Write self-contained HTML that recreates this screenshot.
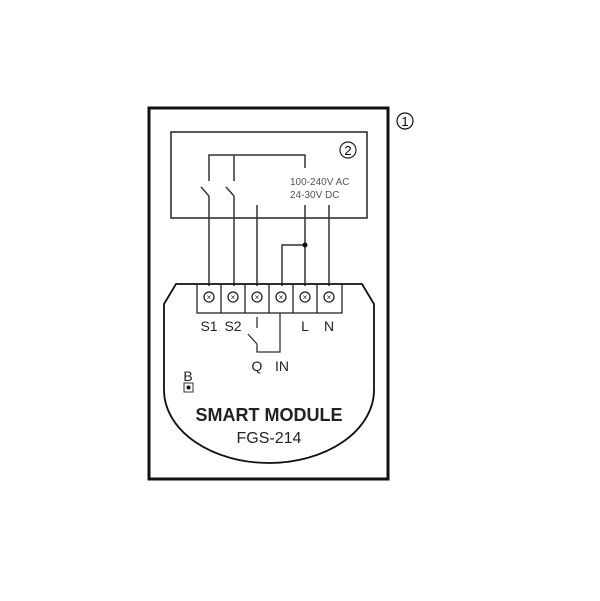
<!DOCTYPE html>
<html><head><style>body{margin:0;background:#fff}svg{display:block}</style></head><body>
<svg width="600" height="601" xmlns="http://www.w3.org/2000/svg" font-family="Liberation Sans, sans-serif">
<rect x="149" y="108" width="239" height="371" fill="none" stroke="#111" stroke-width="3"/>
<circle cx="405" cy="121" r="8" fill="none" stroke="#111" stroke-width="1.2"/>
<text x="405" y="126" font-size="13" text-anchor="middle">1</text>
<rect x="171" y="132" width="196" height="86" fill="none" stroke="#222" stroke-width="1.5"/>
<circle cx="348" cy="150" r="8" fill="none" stroke="#222" stroke-width="1.2"/>
<text x="348" y="155" font-size="13" text-anchor="middle">2</text>
<text x="290" y="185" font-size="10" fill="#555">100-240V AC</text>
<text x="290" y="198" font-size="10" fill="#555">24-30V DC</text>
<g stroke="#333" stroke-width="1.5" fill="none">
<polyline points="209,181 209,155 305,155 305,168"/>
<line x1="234" y1="155" x2="234" y2="181"/>
<line x1="201" y1="187" x2="209" y2="196"/>
<line x1="226" y1="187" x2="234" y2="196"/>
<line x1="209" y1="196" x2="209" y2="286"/>
<line x1="234" y1="196" x2="234" y2="286"/>
<line x1="257" y1="205" x2="257" y2="286"/>
<line x1="305" y1="205" x2="305" y2="286"/>
<line x1="329" y1="205" x2="329" y2="286"/>
<polyline points="282,286 282,245 305,245"/>
</g>
<circle cx="305" cy="245" r="2.5" fill="#111"/>
<path d="M176,284 L362,284 L374,304 L374,390 A105,73 0 0 1 164,390 L164,304 Z" fill="none" stroke="#111" stroke-width="1.8"/>
<g stroke="#222" stroke-width="1.3" fill="none">
<rect x="197" y="284" width="145" height="29"/>
<line x1="221" y1="284" x2="221" y2="313"/><line x1="245" y1="284" x2="245" y2="313"/>
<line x1="269" y1="284" x2="269" y2="313"/><line x1="293" y1="284" x2="293" y2="313"/>
<line x1="317" y1="284" x2="317" y2="313"/>
</g>
<g stroke="#222" stroke-width="1.3" fill="none">
<circle cx="209" cy="297" r="5"/><circle cx="233" cy="297" r="5"/><circle cx="257" cy="297" r="5"/>
<circle cx="281" cy="297" r="5"/><circle cx="305" cy="297" r="5"/><circle cx="329" cy="297" r="5"/>
</g>
<g font-size="8" text-anchor="middle" fill="#222">
<text x="209" y="300">×</text><text x="233" y="300">×</text><text x="257" y="300">×</text>
<text x="281" y="300">×</text><text x="305" y="300">×</text><text x="329" y="300">×</text>
</g>
<g font-size="14" fill="#222" text-anchor="middle">
<text x="209" y="331">S1</text><text x="233" y="331">S2</text>
<text x="305" y="331">L</text><text x="329" y="331">N</text>
<text x="257" y="371">Q</text><text x="282" y="371">IN</text>
<text x="188" y="381">B</text>
</g>
<g stroke="#333" stroke-width="1.3" fill="none">
<line x1="257" y1="317" x2="257" y2="328"/>
<line x1="248" y1="334" x2="257" y2="344"/>
<polyline points="257,344 257,352 280,352 280,313"/>
</g>
<rect x="184" y="383" width="9" height="9" fill="none" stroke="#333"/>
<circle cx="188.5" cy="387.5" r="2" fill="#111"/>
<text x="269" y="421" font-size="18" font-weight="bold" text-anchor="middle" fill="#222">SMART MODULE</text>
<text x="269" y="443" font-size="16" text-anchor="middle" fill="#222">FGS-214</text>
</svg>
</body></html>
